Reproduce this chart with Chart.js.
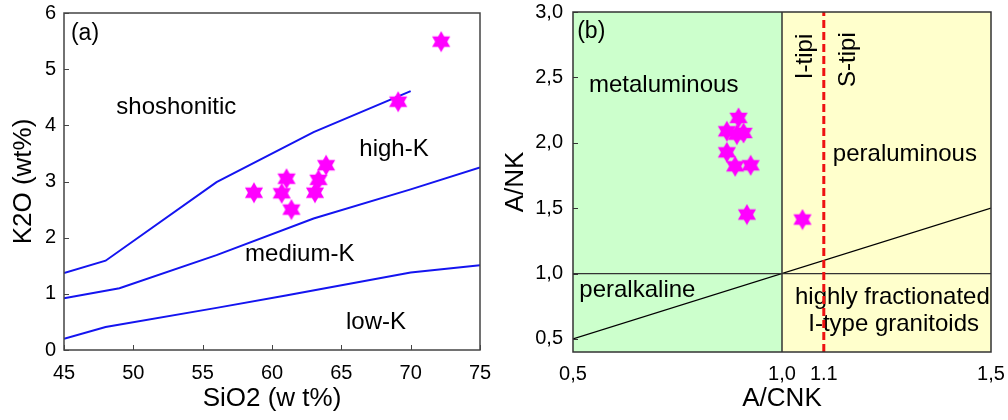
<!DOCTYPE html>
<html>
<head>
<meta charset="utf-8">
<script src="https://cdn.jsdelivr.net/npm/chart.js@4"></script>
<style>
body { margin: 0; background: #fff; }
#wrap { position: relative; width: 1008px; height: 420px; }
#ca { position: absolute; left: 0; top: 0; }
#cb { position: absolute; left: 500px; top: 0; }
</style>
</head>
<body>
<div id="wrap">
  <canvas id="ca" width="500" height="420"></canvas>
  <canvas id="cb" width="508" height="420"></canvas>
</div>
<script>
// (a) SiO2 - K2O
const sio2 = [58.7, 60.7, 61.05, 61.4, 63.1, 63.35, 63.9, 69.1, 72.2];
const k2o = [2.8, 2.79, 3.05, 2.5, 2.8, 3.03, 3.29, 4.42, 5.49];
const shoshoniticLine = [[45, 1.37], [48, 1.59], [56, 2.99], [63, 3.88], [70, 4.61]];
const highKLine = [[45, 0.92], [49, 1.1], [56, 1.69], [63, 2.34], [70, 2.86], [75, 3.25]];
const lowKLine = [[45, 0.2], [48, 0.41], [56, 0.75], [61, 0.97], [70, 1.38], [75, 1.51]];
const xTicksA = [45, 50, 55, 60, 65, 70, 75];
const yTicksA = [0, 1, 2, 3, 4, 5, 6];

// (b) A/CNK - A/NK
const acnk = [0.896, 0.868, 0.892, 0.908, 0.868, 0.888, 0.925, 0.916, 1.049];
const ank = [2.19, 2.088, 2.062, 2.075, 1.927, 1.82, 1.828, 1.451, 1.413];
const xTicksB = [0.5, 1.0, 1.1, 1.5];
const xTickLabelsB = ["0,5", "1,0", "1.1", "1,5"];
const yTicksB = [0.5, 1.0, 1.5, 2.0, 2.5, 3.0];
const yTickLabelsB = ["0,5", "1,0", "1,5", "2,0", "2,5", "3,0"];
const metaPeraLine = [[1.0, 0.4], [1.0, 3.0]];
const alkalineLine = [[0.5, 1.0], [1.5, 1.0]];
const diagonalLine = [[0.5, 0.5], [1.5, 1.5]];
const iSLine = [[1.1, 0.4], [1.1, 3.0]];

const FONT = "'Liberation Sans', Arial, sans-serif";
const pts = arr => arr.map(p => ({ x: p[0], y: p[1] }));

function makeStar(size, color) {
    const c = document.createElement("canvas");
    c.width = size; c.height = size;
    const g = c.getContext("2d");
    const r = size / 2 - 0.5, cx = size / 2, cy = size / 2;
    g.fillStyle = color;
    [-90, 90].forEach(a0 => {
        g.beginPath();
        for (let k = 0; k < 3; k++) {
            const a = (a0 + k * 120) * Math.PI / 180;
            const px = cx + r * Math.cos(a), py = cy + r * Math.sin(a);
            if (k === 0) g.moveTo(px, py); else g.lineTo(px, py);
        }
        g.closePath();
        g.fill();
    });
    return c;
}
const star = makeStar(22, "#ff00ff");

const regionFill = {
    id: "regionFill",
    beforeDatasetsDraw(chart, args, opts) {
        if (!opts.regions) return;
        const { ctx, chartArea, scales } = chart;
        opts.regions.forEach(r => {
            const x0 = scales.x.getPixelForValue(r.from);
            const x1 = scales.x.getPixelForValue(r.to);
            ctx.fillStyle = r.color;
            ctx.fillRect(x0, chartArea.top, x1 - x0, chartArea.bottom - chartArea.top);
        });
    }
};

const textLabels = {
    id: "textLabels",
    beforeDatasetsDraw(chart, args, opts) {
        if (!opts.items) return;
        const { ctx, scales } = chart;
        ctx.save();
        ctx.fillStyle = "#000";
        ctx.textBaseline = "middle";
        opts.items.forEach(t => {
            const px = scales.x.getPixelForValue(t.x);
            const py = scales.y.getPixelForValue(t.y);
            ctx.font = (t.size || 24) + "px " + FONT;
            ctx.textAlign = t.align || "center";
            ctx.save();
            ctx.translate(px, py);
            if (t.rotate) ctx.rotate(t.rotate * Math.PI / 180);
            ctx.fillText(t.text, 0, 0);
            ctx.restore();
        });
        ctx.restore();
    }
};

const frameTicks = {
    id: "frameTicks",
    afterDraw(chart, args, opts) {
        const { ctx, chartArea: a, scales } = chart;
        ctx.save();
        ctx.strokeStyle = opts.color || "#444";
        ctx.lineWidth = 1.5;
        ctx.strokeRect(a.left, a.top, a.right - a.left, a.bottom - a.top);
        ctx.lineWidth = 1;
        ctx.beginPath();
        if (opts.x) scales.x.ticks.forEach(t => {
            const px = Math.round(scales.x.getPixelForValue(t.value)) + 0.5;
            ctx.moveTo(px, a.bottom); ctx.lineTo(px, a.bottom - 5);
        });
        if (opts.y) scales.y.ticks.forEach(t => {
            const py = Math.round(scales.y.getPixelForValue(t.value)) + 0.5;
            ctx.moveTo(a.left, py); ctx.lineTo(a.left + 5, py);
        });
        ctx.stroke();
        ctx.restore();
    }
};

function lineSet(data, color, width, dash) {
    return {
        data: pts(data), showLine: true, pointRadius: 0,
        borderColor: color, borderWidth: width, borderDash: dash || [],
        fill: false
    };
}

function axis(min, max, ticksArr, labels, title, fitKey, fitVal, tickPad, titlePad) {
    return {
        type: "linear", min: min, max: max,
        afterBuildTicks: s => { s.ticks = ticksArr.map(v => ({ value: v })); },
        afterFit: s => {
            s[fitKey] = fitVal;
            // the plot area is set by layout.padding only
            s.paddingTop = s.paddingBottom = s.paddingLeft = s.paddingRight = 0;
        },
        grid: { display: false, drawTicks: false },
        border: { display: false },
        ticks: {
            autoSkip: false, maxRotation: 0, padding: tickPad, color: "#000",
            font: { family: FONT, size: 20 },
            callback: v => labels ? labels[ticksArr.indexOf(v)] : String(v)
        },
        title: {
            display: true, text: title, color: "#000",
            font: { family: FONT, size: 26 }, padding: titlePad
        }
    };
}

function createCharts() {
    new Chart(document.getElementById("ca"), {
        type: "scatter",
        data: {
            datasets: [
                { data: sio2.map((v, i) => ({ x: v, y: k2o[i] })), pointStyle: star, pointRadius: 11 },
                lineSet(shoshoniticLine, "#1414f0", 2),
                lineSet(highKLine, "#1414f0", 2),
                lineSet(lowKLine, "#1414f0", 2)
            ]
        },
        options: {
            responsive: false, animation: false,
            layout: { padding: { left: 0, right: 20, top: 13, bottom: 0 } },
            scales: {
                x: axis(45, 75, xTicksA, null, "SiO2 (w t%)", "height", 70, 11, { top: 0, bottom: 6 }),
                y: axis(0, 6, yTicksA, null, "K2O (wt%)", "width", 64, 8, { top: 8, bottom: 0 })
            },
            plugins: {
                legend: { display: false }, tooltip: { enabled: false },
                frameTicks: { x: true, y: true, color: "#444" },
                textLabels: {
                    items: [
                        { text: "(a)", x: 45.5, y: 5.64, align: "left", size: 23 },
                        { text: "shoshonitic", x: 53.1, y: 4.32 },
                        { text: "high-K", x: 68.8, y: 3.58 },
                        { text: "medium-K", x: 62.0, y: 1.71 },
                        { text: "low-K", x: 67.5, y: 0.5 }
                    ]
                }
            }
        },
        plugins: [textLabels, frameTicks]
    });

    new Chart(document.getElementById("cb"), {
        type: "scatter",
        data: {
            datasets: [
                { data: acnk.map((v, i) => ({ x: v, y: ank[i] })), pointStyle: star, pointRadius: 11 },
                lineSet(iSLine, "#ee1111", 3, [8, 4]),
                lineSet(metaPeraLine, "#333", 1.5),
                lineSet(alkalineLine, "#333", 1.2),
                lineSet(diagonalLine, "#000", 1.2)
            ]
        },
        options: {
            responsive: false, animation: false,
            layout: { padding: { left: 0, right: 17, top: 12, bottom: 0 } },
            scales: {
                x: axis(0.5, 1.5, xTicksB, xTickLabelsB, "A/CNK", "height", 68, 10, { top: 0, bottom: 6 }),
                y: axis(0.4, 3.0, yTicksB, yTickLabelsB, "A/NK", "width", 73, 10, { top: 0, bottom: 0 })
            },
            plugins: {
                legend: { display: false }, tooltip: { enabled: false },
                frameTicks: { x: false, y: true, color: "#333" },
                regionFill: {
                    regions: [
                        { from: 0.5, to: 1.0, color: "#ccffcc" },
                        { from: 1.0, to: 1.5, color: "#ffffcc" }
                    ]
                },
                textLabels: {
                    items: [
                        { text: "(b)", x: 0.51, y: 2.85, align: "left", size: 23 },
                        { text: "metaluminous", x: 0.717, y: 2.437 },
                        { text: "I-tipi", x: 1.055, y: 2.66, rotate: -90 },
                        { text: "S-tipi", x: 1.159, y: 2.636, rotate: -90 },
                        { text: "peraluminous", x: 1.294, y: 1.915 },
                        { text: "peralkaline", x: 0.654, y: 0.87 },
                        { text: "highly fractionated", x: 1.264, y: 0.814 },
                        { text: "I-type granitoids", x: 1.267, y: 0.61 }
                    ]
                }
            }
        },
        plugins: [regionFill, textLabels, frameTicks]
    });
}

window.onload = createCharts;
</script>
</body>
</html>
